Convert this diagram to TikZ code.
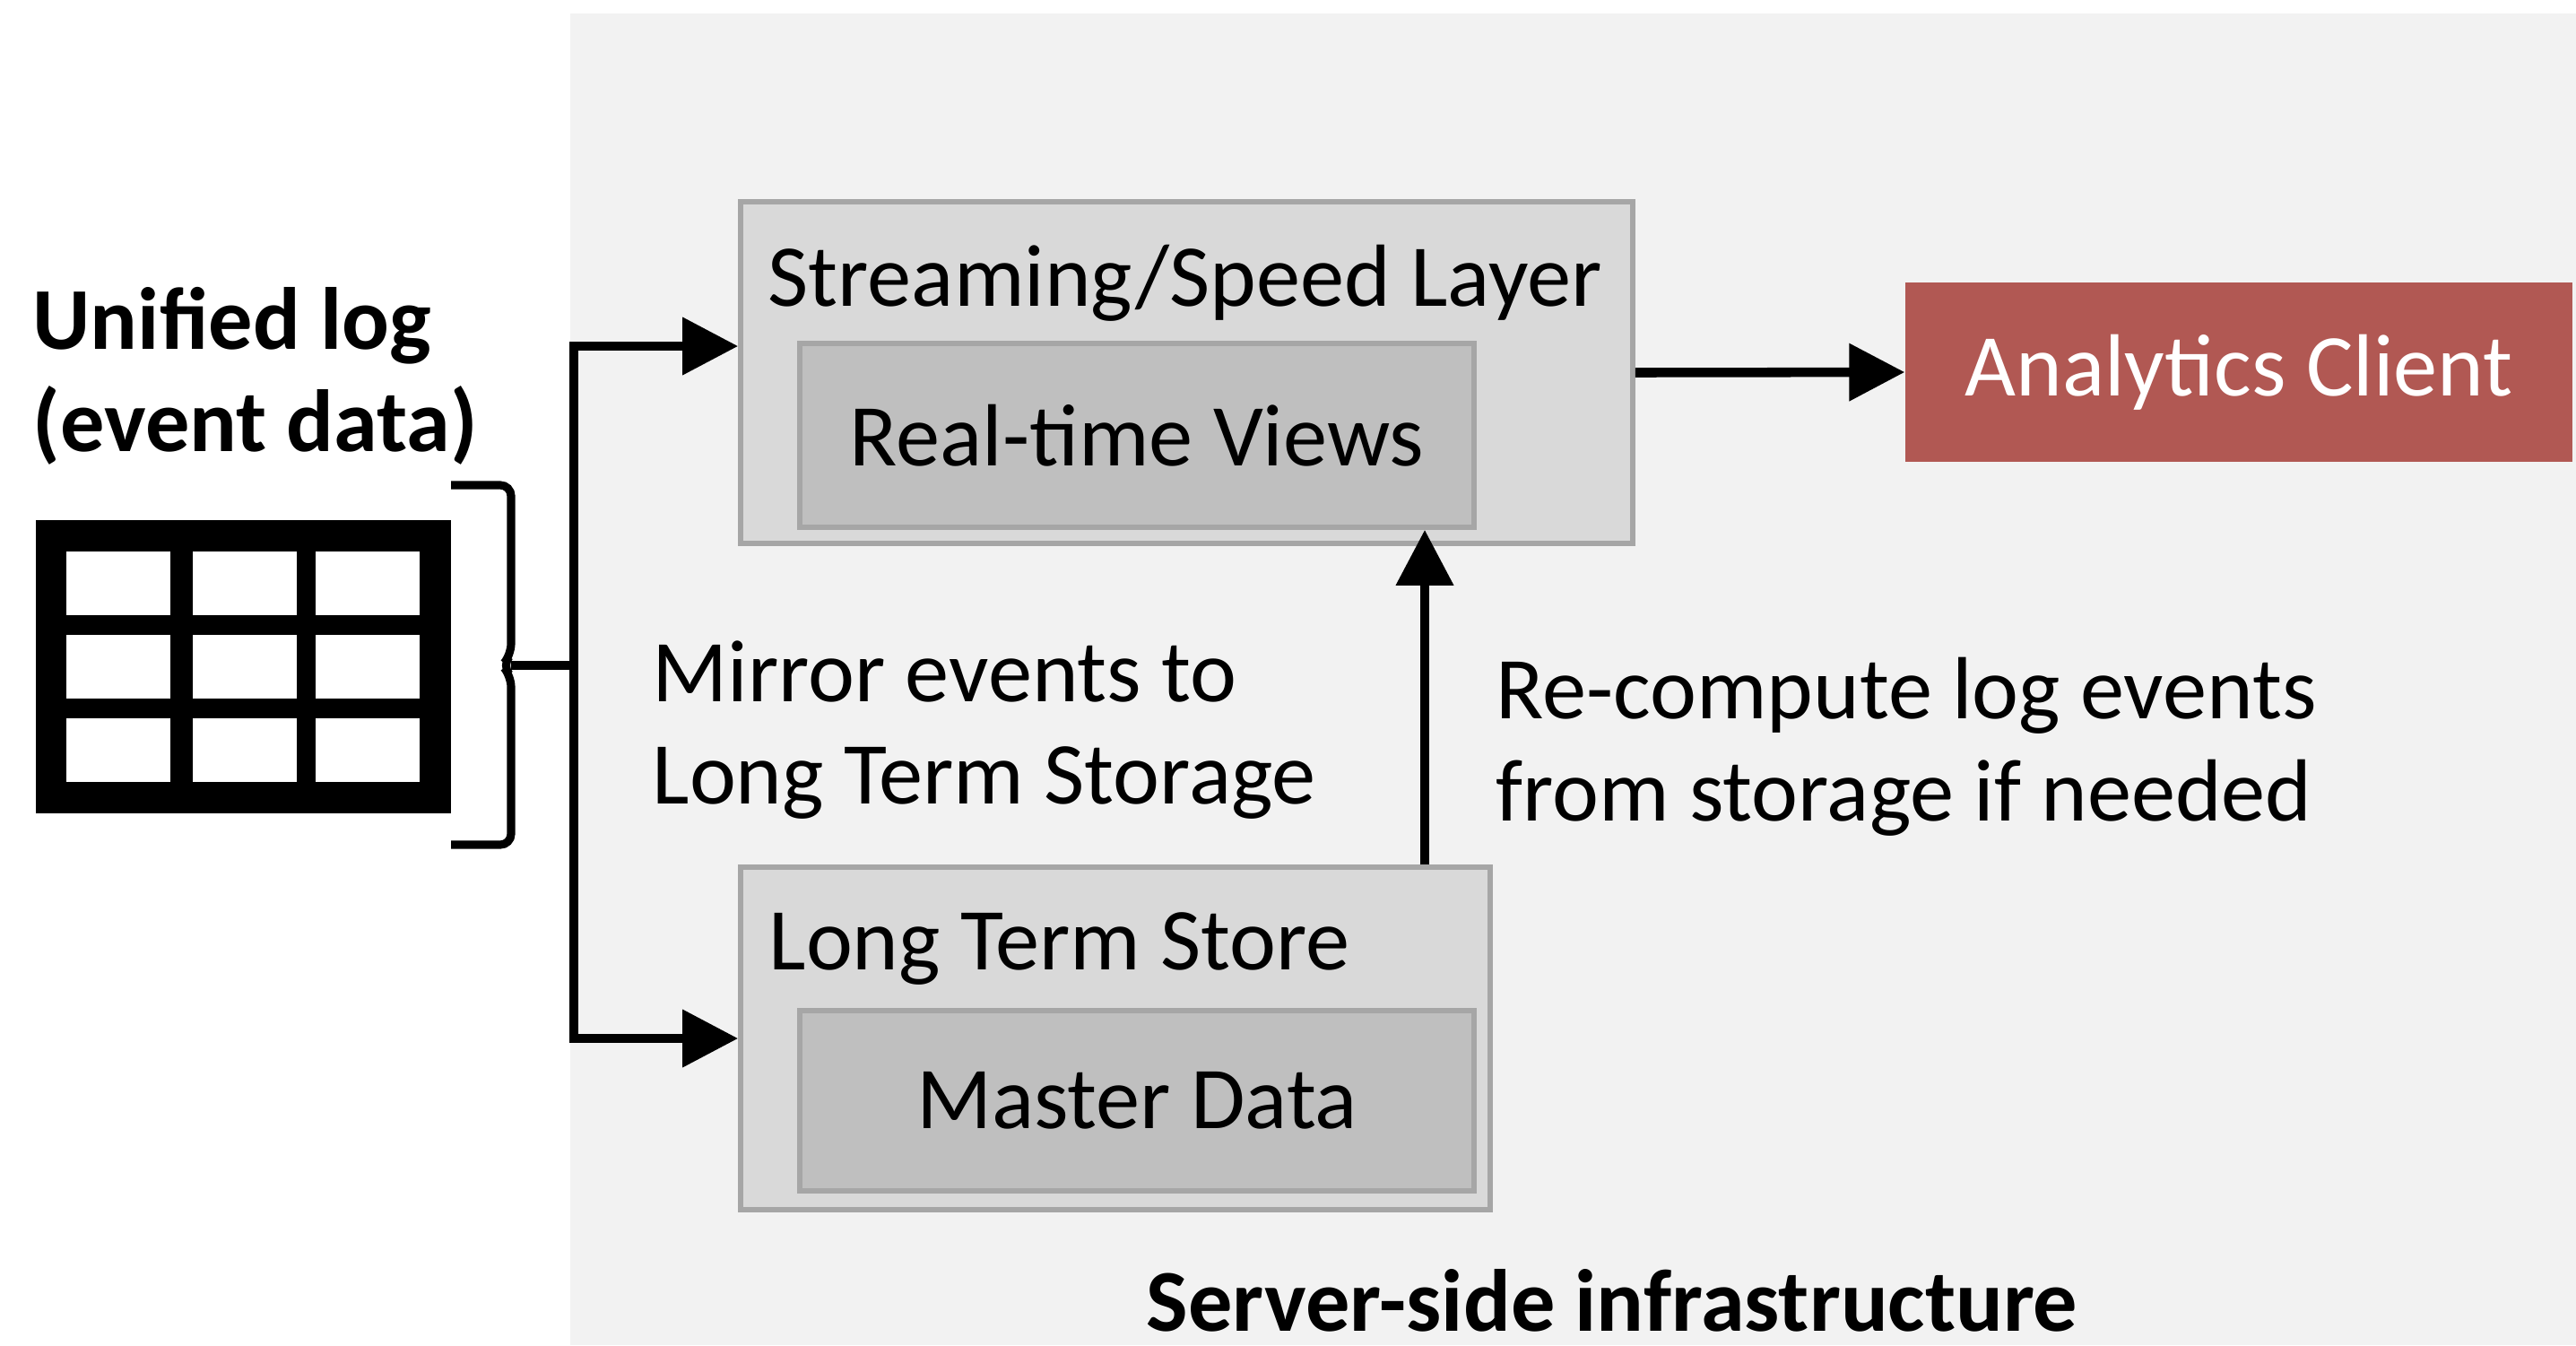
\documentclass[tikz,border=0pt]{standalone}
\usepackage{fontspec}
\setmainfont{Carlito}
\usetikzlibrary{arrows.meta,positioning}
\definecolor{bggrey}{RGB}{242,242,242}
\definecolor{boxgrey}{RGB}{217,217,217}
\definecolor{innergrey}{RGB}{191,191,191}
\definecolor{edgegrey}{RGB}{166,166,166}
\definecolor{clientred}{RGB}{177,88,83}
\newcommand{\lblsize}{\fontsize{28}{32.4}\selectfont}

\begin{document}
\begin{tikzpicture}[
    every node/.style={font=\lblsize},
    layer/.style={draw=edgegrey,fill=boxgrey,line width=1.6pt,inner sep=0pt},
    view/.style={draw=edgegrey,fill=innergrey,line width=1.6pt,inner sep=0pt},
    lbl/.style={inner sep=0pt},
    flow/.style={line width=3pt,-{Triangle[length=0.62cm,width=0.62cm]}}]
    \useasboundingbox (0,0) rectangle (28.73,-15);
    \fill[bggrey] (6.36,-0.15) rectangle (28.73,-15);

    \node[layer,minimum width=9.95cm,minimum height=3.81cm] (speed) at (13.235,-4.155) {};
    \node[view,minimum width=7.52cm,minimum height=2.05cm] (rtv) at (12.68,-4.855) {Real-time Views};
    \node[lbl,anchor=base west] (speedlbl) at (8.56,-3.41) {Streaming/Speed Layer};
    \node[layer,minimum width=8.36cm,minimum height=3.82cm] (lts) at (12.44,-11.58) {};
    \node[view,minimum width=7.52cm,minimum height=2.01cm] (master) at (12.68,-12.275) {Master Data};
    \node[lbl,anchor=base west] (ltslbl) at (8.57,-10.81) {Long Term Store};
    \node[fill=clientred,text=white,minimum width=7.44cm,minimum height=2cm,inner sep=0pt] (client) at (24.97,-4.15) {Analytics Client};

    \node[lbl,anchor=base west,align=left,font=\lblsize\bfseries] (log) at (0.36,-5.03) {Unified log\\(event data)};
    \node[lbl,anchor=base west,align=left] (mirror) at (7.27,-8.96) {Mirror events to\\Long Term Storage};
    \node[lbl,anchor=base west,align=left] (recompute) at (16.68,-9.15) {Re-compute log events\\from storage if needed};
    \node[lbl,anchor=base,font=\lblsize\bfseries] (server) at (17.98,-14.84) {Server-side infrastructure};

    \fill (0.40,-5.80) rectangle (5.03,-9.07);
    \foreach \x in {0.74,2.15,3.52}
        \foreach \y in {-6.15,-7.08,-8.01}
            \fill[white] (\x,\y) rectangle ++(1.16,-0.71);
    \draw[line width=2.6pt,rounded corners=0.12cm] (5.03,-5.41) -| (5.70,-7.30) -- (5.60,-7.42) -- (5.70,-7.54) |- (5.03,-9.42);

    \coordinate (brtip) at (5.70,-7.42);
    \coordinate (fork) at (6.40,-7.42);
    \coordinate (forktop) at (6.40,-3.86);
    \coordinate (upx) at (15.89,0);
    \draw[line width=3pt] (brtip) -- (fork);
    \draw[flow] (fork) -- (forktop) -- (speed.west |- forktop);
    \draw[flow] (fork) -- (fork |- lts.west) -- (lts.west);
    \draw[flow] (speed.east) -- (client.west);
    \draw[flow] (lts.north -| upx) -- (rtv.south -| upx);
\end{tikzpicture}
\end{document}
